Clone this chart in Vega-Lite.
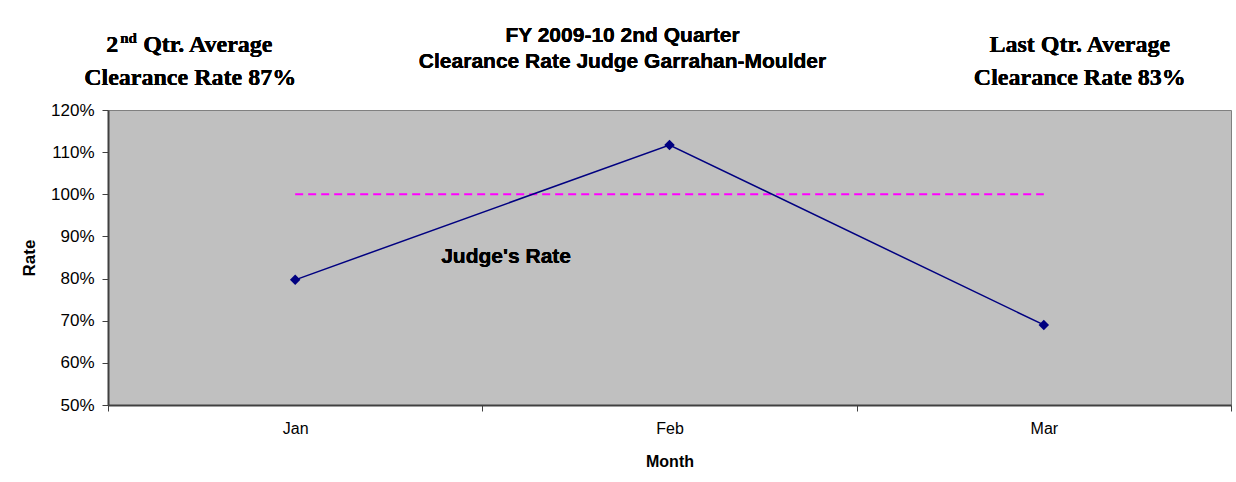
{
  "$schema": "https://vega.github.io/schema/vega-lite/v6.json",
  "width": 1123,
  "height": 295,
  "autosize": {"type": "none"},
  "padding": {"left": 108, "top": 110, "right": 5, "bottom": 77},
  "background": "white",
  "config": {
    "font": "Liberation Sans",
    "view": {"fill": "#C0C0C0", "stroke": "#808080", "strokeWidth": 1}
  },
  "data": {
    "values": [
      {"Month": "Jan", "Rate": 0.797, "Target": 1.0},
      {"Month": "Feb", "Rate": 1.117, "Target": 1.0},
      {"Month": "Mar", "Rate": 0.69, "Target": 1.0}
    ]
  },
  "encoding": {
    "x": {
      "field": "Month", "type": "nominal", "sort": ["Jan", "Feb", "Mar"],
      "scale": {"type": "band", "paddingInner": 0, "paddingOuter": 0},
      "axis": {
        "title": "Month", "labelAngle": 0, "tickBand": "extent",
        "tickSize": 6, "tickColor": "#404040", "domainColor": "#404040", "domainWidth": 2,
        "labelFontSize": 16, "labelColor": "black", "labelPadding": 9,
        "titleFontSize": 16, "titleFontWeight": "bold", "titleColor": "black", "titlePadding": 17,
        "grid": false
      }
    }
  },
  "layer": [
    {
      "mark": {"type": "line", "color": "#FF00FF", "strokeWidth": 2, "strokeDash": [8, 5]},
      "encoding": {
        "y": {"field": "Target", "type": "quantitative"}
      }
    },
    {
      "mark": {"type": "line", "color": "#000080", "strokeWidth": 1.5,
        "point": {"shape": "diamond", "filled": true, "color": "#000080", "size": 110}},
      "encoding": {
        "y": {
          "field": "Rate", "type": "quantitative",
          "scale": {"domain": [0.5, 1.2], "nice": false, "zero": false},
          "axis": {
            "title": "Rate", "format": ".0%", "values": [0.5, 0.6, 0.7, 0.8, 0.9, 1.0, 1.1, 1.2],
            "grid": false, "tickSize": 6, "tickColor": "#404040", "domainColor": "#404040", "domainWidth": 2,
            "labelFontSize": 17, "labelColor": "black", "labelPadding": 8,
            "titleFontSize": 17, "titleFontWeight": "bold", "titleColor": "black", "titlePadding": 12
          }
        }
      }
    },
    {
      "mark": {"type": "text", "text": "Judge's Rate", "font": "Liberation Sans", "fontWeight": "bold", "fontSize": 21, "align": "left", "baseline": "alphabetic", "dx": 146, "color": "black"},
      "encoding": {"x": {"datum": "Jan"}, "y": {"datum": 0.837}}
    },
    {
      "mark": {"type": "text", "text": ["FY 2009-10 2nd Quarter", "Clearance Rate Judge Garrahan-Moulder"], "font": "Liberation Sans", "fontWeight": "bold", "fontSize": 21, "lineHeight": 26, "align": "center", "baseline": "alphabetic", "dx": -47, "color": "black"},
      "encoding": {"x": {"datum": "Feb"}, "y": {"datum": 1.3614}}
    },
    {
      "mark": {"type": "text", "text": "2", "font": "Liberation Serif", "fontWeight": "bold", "fontSize": 24, "align": "left", "baseline": "alphabetic", "dx": -189, "color": "black"},
      "encoding": {"x": {"datum": "Jan"}, "y": {"datum": 1.3377}}
    },
    {
      "mark": {"type": "text", "text": "nd", "font": "Liberation Serif", "fontWeight": "bold", "fontSize": 15, "align": "left", "baseline": "alphabetic", "dx": -175, "dy": -9, "color": "black"},
      "encoding": {"x": {"datum": "Jan"}, "y": {"datum": 1.3377}}
    },
    {
      "mark": {"type": "text", "text": "Qtr. Average", "font": "Liberation Serif", "fontWeight": "bold", "fontSize": 24, "align": "left", "baseline": "alphabetic", "dx": -152, "color": "black"},
      "encoding": {"x": {"datum": "Jan"}, "y": {"datum": 1.3377}}
    },
    {
      "mark": {"type": "text", "text": "Clearance Rate 87%", "font": "Liberation Serif", "fontWeight": "bold", "fontSize": 24, "align": "center", "baseline": "alphabetic", "dx": -105, "color": "black"},
      "encoding": {"x": {"datum": "Jan"}, "y": {"datum": 1.2594}}
    },
    {
      "mark": {"type": "text", "text": ["Last Qtr. Average", "Clearance Rate 83%"], "font": "Liberation Serif", "fontWeight": "bold", "fontSize": 24, "lineHeight": 33, "align": "center", "baseline": "alphabetic", "dx": 36, "color": "black"},
      "encoding": {"x": {"datum": "Mar"}, "y": {"datum": 1.3377}}
    }
  ]
}
